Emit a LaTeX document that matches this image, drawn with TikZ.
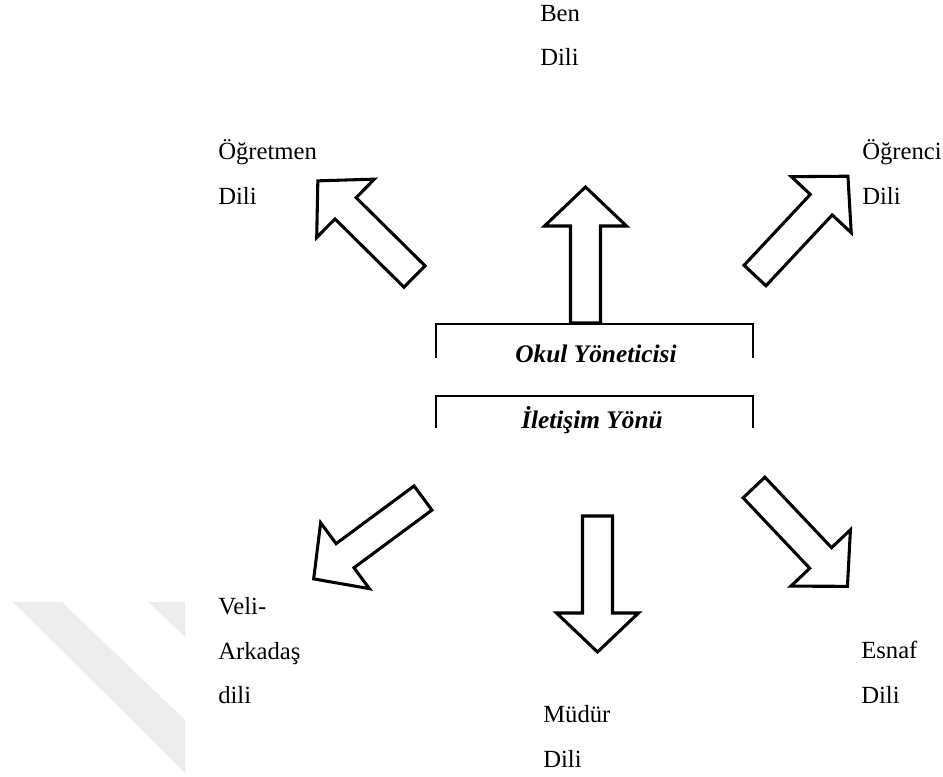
\documentclass[tikz,border=0pt]{standalone}
\usepackage{fontspec}
\setmainfont{Liberation Serif}
\begin{document}
\begin{tikzpicture}[x=0.75pt,y=-0.75pt]
\tikzset{
  lbl/.style={anchor=base west, inner sep=0pt, font=\fontsize{18.5}{22}\selectfont},
  ttl/.style={anchor=base, inner sep=0pt, font=\fontsize{19}{23}\selectfont\bfseries\itshape},
  blockarrow/.style={draw=black, line width=2.3pt, fill=white, line join=miter},
  bracketline/.style={line width=1.5pt},
  wmark/.style={fill=black!7, draw=none},
  pics/barrow/.style={code={\draw[blockarrow] (0,-15) -- (97,-15) -- (97,-41) -- (136,0) -- (97,41) -- (97,15) -- (0,15) -- cycle;}}
}
\useasboundingbox (0,0) rectangle (943,776);
% watermark
\fill[wmark] (13,602) -- (62,602) -- (185,720) -- (185,773) -- cycle;
\fill[wmark] (148,602) -- (185,602) -- (185,637) -- cycle;
% brackets
\coordinate (b1l) at (436,358); \coordinate (b1r) at (753,358);
\coordinate (b2l) at (436,428); \coordinate (b2r) at (753,428);
\draw[bracketline] (b1l) -- (436,324) -- (753,324) -- (b1r);
\draw[bracketline] (b2l) -- (436,396) -- (753,396) -- (b2r);
\node[ttl] (okul) at (596,362) {Okul Yöneticisi};
\node[ttl] (ilet) at (592,428) {İletişim Yönü};
% arrows
\coordinate (aU) at (585.5,323);
\coordinate (aD) at (597.5,516);
\coordinate (aUL) at (414.5,276.5);
\coordinate (aUR) at (755,275.5);
\coordinate (aLL) at (423,498);
\coordinate (aLR) at (754,487.5);
\pic[rotate=90] at (aU) {barrow};
\pic[rotate=-90] at (aD) {barrow};
\pic[rotate=135.3] at (aUL) {barrow};
\pic[rotate=46.9] at (aUR) {barrow};
\pic[rotate=216.5] at (aLL) {barrow};
\pic[rotate=-46.6] at (aLR) {barrow};
% labels
\node[lbl] (ben) at (540,21) {Ben};
\node[lbl] (bend) at (540,65) {Dili};
\node[lbl] (ogr) at (218,159) {Öğretmen};
\node[lbl] (ogrd) at (218,204) {Dili};
\node[lbl] (ogc) at (862,159) {Öğrenci};
\node[lbl] (ogcd) at (862,204) {Dili};
\node[lbl] (veli) at (218,614) {Veli-};
\node[lbl] (ark) at (218,659) {Arkadaş};
\node[lbl] (arkd) at (218,703) {dili};
\node[lbl] (mud) at (543,722) {Müdür};
\node[lbl] (mudd) at (543,767) {Dili};
\node[lbl] (esn) at (861,658) {Esnaf};
\node[lbl] (esnd) at (861,703) {Dili};
\end{tikzpicture}
\end{document}
